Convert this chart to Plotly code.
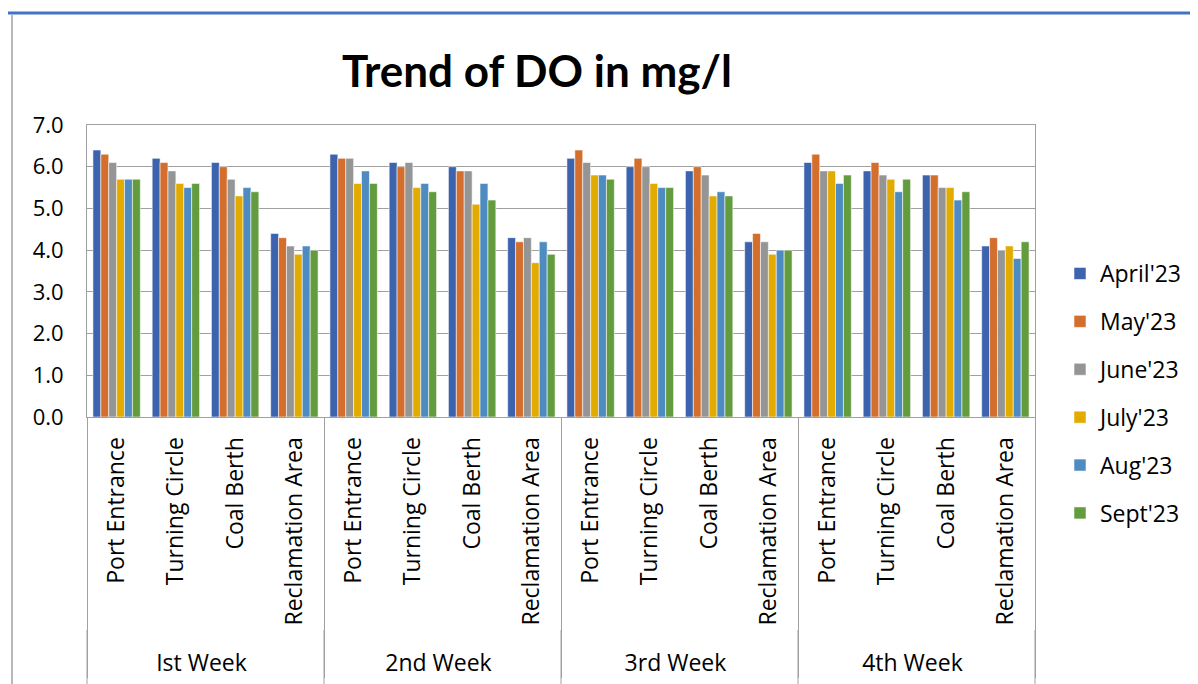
import plotly.graph_objects as go

weeks = ["Ist Week", "2nd Week", "3rd Week", "4th Week"]
sites = ["Port Entrance", "Turning Circle", "Coal Berth", "Reclamation Area"]
months = ["April'23", "May'23", "June'23", "July'23", "Aug'23", "Sept'23"]

april = [6.4, 6.2, 6.1, 4.4, 6.3, 6.1, 6.0, 4.3, 6.2, 6.0, 5.9, 4.2, 6.1, 5.9, 5.8, 4.1]
may = [6.3, 6.1, 6.0, 4.3, 6.2, 6.0, 5.9, 4.2, 6.4, 6.2, 6.0, 4.4, 6.3, 6.1, 5.8, 4.3]
june = [6.1, 5.9, 5.7, 4.1, 6.2, 6.1, 5.9, 4.3, 6.1, 6.0, 5.8, 4.2, 5.9, 5.8, 5.5, 4.0]
july = [5.7, 5.6, 5.3, 3.9, 5.6, 5.5, 5.1, 3.7, 5.8, 5.6, 5.3, 3.9, 5.9, 5.7, 5.5, 4.1]
aug = [5.7, 5.5, 5.5, 4.1, 5.9, 5.6, 5.6, 4.2, 5.8, 5.5, 5.4, 4.0, 5.6, 5.4, 5.2, 3.8]
sept = [5.7, 5.6, 5.4, 4.0, 5.6, 5.4, 5.2, 3.9, 5.7, 5.5, 5.3, 4.0, 5.8, 5.7, 5.4, 4.2]

series = [april, may, june, july, aug, sept]
colors = ["#3C63AE", "#D46E2C", "#959595", "#E3AA00", "#4E8BC1", "#639B3F"]

# leading no-break spaces sit at the (hidden) bottom end of the rotated labels,
# pushing the week row down a little
PAD = "\u00a0\u00a0"
x_outer = [w for w in weeks for _ in sites]
x_inner = [PAD + s for _ in weeks for s in sites]

fig = go.Figure()
for name, vals, col in zip(months, series, colors):
    fig.add_trace(go.Bar(
        x=[x_outer, x_inner], y=vals, name=name,
        marker=dict(color=col, line=dict(color="rgba(255,255,255,0.55)", width=1)),
        legendgroup=name,
    ))

# page body has an 8px margin; work in reference-picture coordinates
OFF = 8
W, H = 1198 - OFF, 684 - OFF
L, R, T, B = 87 - OFF, 1035 - OFF, 125 - OFF, 417 - OFF
pw, ph = R - L, B - T

def px(x):
    return (x - OFF - L) / pw

def py(y):
    return (B - (y - OFF)) / ph

shapes = [
    dict(type="line", xref="paper", yref="paper", x0=px(0), x1=px(1198), y0=py(13), y1=py(13),
         line=dict(color="#4472C4", width=3)),
    dict(type="line", xref="paper", yref="paper", x0=px(12), x1=px(12), y0=py(15), y1=py(684),
         line=dict(color="#A0A0A0", width=1.5)),
]
for i in range(len(weeks) + 1):
    xf = i / len(weeks)
    shapes.append(dict(type="line", xref="paper", yref="paper", x0=xf, x1=xf,
                       y0=py(630), y1=py(684), line=dict(color="#A0A0A0", width=1)))

fig.update_layout(
    width=W, height=H,
    margin=dict(l=L, r=W - R, t=T, b=H - B, autoexpand=False),
    paper_bgcolor="white", plot_bgcolor="white",
    barmode="group", bargap=0.2, bargroupgap=0,
    font=dict(family="Open Sans", color="black", size=22),
    title=dict(text="<b>Trend of DO in mg/l</b>", x=(537 - OFF) / W, xanchor="center",
               y=1 - (72 - OFF) / H, yanchor="middle",
               font=dict(family="Lato", size=44, color="black")),
    legend=dict(x=px(1060), xanchor="left", y=py(252), yanchor="top",
                font=dict(size=23, family="Open Sans"), tracegroupgap=15,
                itemwidth=30, bgcolor="rgba(0,0,0,0)"),
    xaxis=dict(type="multicategory", tickangle=-90, showline=True, linecolor="#A0A0A0",
               linewidth=1, mirror=True, showgrid=False, ticks="",
               ticklabelstandoff=10,
               tickfont=dict(size=23, family="Open Sans"),
               showdividers=True, dividercolor="#A0A0A0", dividerwidth=1),
    yaxis=dict(range=[0, 7], dtick=1, tickformat=".1f", showgrid=True,
               gridcolor="#A0A0A0", gridwidth=1, showline=True, linecolor="#A0A0A0",
               linewidth=1, mirror=True, ticks="", zeroline=False,
               ticklabelstandoff=18,
               tickfont=dict(size=22, family="Open Sans")),
    shapes=shapes,
)

fig.write_html("out.html")
